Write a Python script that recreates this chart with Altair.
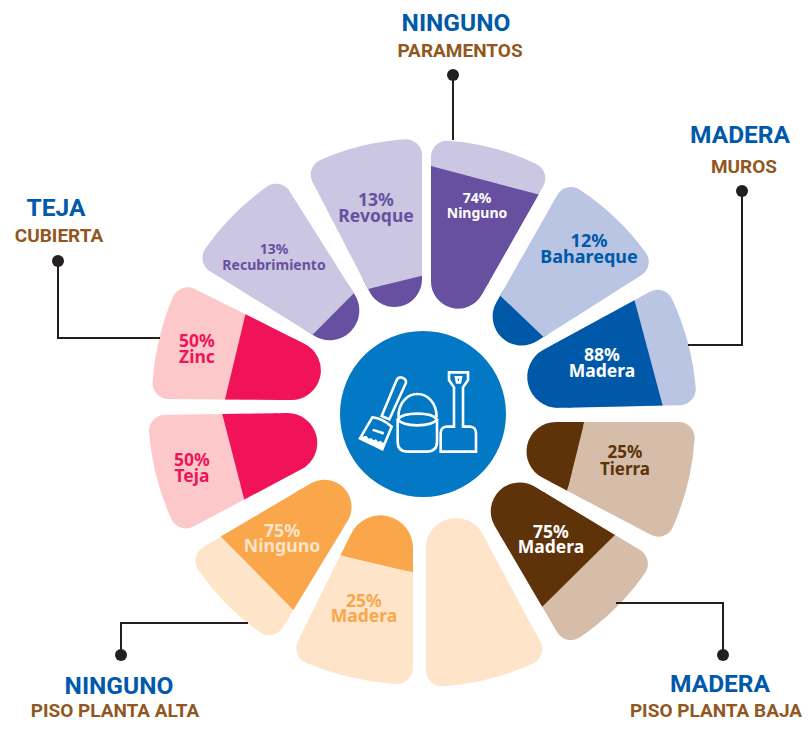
import math
import altair as alt
import pandas as pd

# ---------- petal data (clockwise from 12 o'clock) ----------
petal_dark = ["#67509F", "#0058A9", "#0058A9", "#5E3309", "#5E3309", "#FEE4C9",
              "#FAA74B", "#FAA74B", "#F0135A", "#F0135A", "#67509F", "#67509F"]
petal_pale = ["#CBC6E1", "#B9C5E3", "#B9C5E3", "#D5BDA9", "#D5BDA9", "#FEE4C9",
              "#FEE4C9", "#FEE4C9", "#FDC8CA", "#FDC8CA", "#CBC6E1", "#CBC6E1"]
dark_end = [248, 142, 240, 163, 228, 134, 162, 237, 200, 201, 137, 137]

# side edges of every petal: near point, far point
edge_start = [((431, 290), (431, 170)), ((501.7, 293), (560, 190)), ((543, 350), (650, 291.7)),
              ((553, 422), (683, 422)), ((537, 488), (640, 550)), ((482, 533), (543, 647)),
              ((413, 530), (413, 660)), ((350, 517), (283, 627)), ((300, 470), (187, 530)),
              ((290, 400), (153, 399)), ((313, 335), (203, 267)), ((367, 287), (310, 177))]
edge_end = [((480, 298), (540, 192)), ((546.7, 335), (645, 273)), ((553, 408), (687, 405)),
            ((543, 478), (653, 536)), ((493, 523), (560, 637)), ((426, 530), (426, 660)),
            ((353, 530), (297, 643)), ((303, 488), (193, 553)), ((290, 413), (155, 415)),
            ((303, 343), (183, 283)), ((353, 292), (287, 187)), ((422, 280), (422, 150))]

# ---------- label data ----------
pct_text = ["74%", "12%", "88%", "25%", "75%", "25%", "75%", "50%", "50%", "13%", "13%"]
name_text = ["Ninguno", "Bahareque", "Madera", "Tierra", "Madera", "Madera", "Ninguno",
             "Teja", "Zinc", "Recubrimiento", "Revoque"]
label_x = [477, 589, 602, 625, 551, 364, 282, 192, 197, 274, 376]
pct_y = [199, 242, 356, 453, 533, 602, 532, 461, 342, 250, 201]
name_y = [214, 258, 372, 470, 548, 617, 547, 477, 358, 266, 217]
label_size = [14, 18, 17.5, 17, 17.5, 17.5, 17.7, 17.5, 17.5, 14, 17.5]
label_color = ["#FFFFFF", "#0058A9", "#FFFFFF", "#5E3309", "#FFFFFF", "#FAA74B", "#FEE4C9",
               "#F0135A", "#F0135A", "#67509F", "#67509F"]

head_text = ["NINGUNO", "MADERA", "MADERA", "NINGUNO", "TEJA"]
head_x = [456, 740, 720, 119, 56]
head_y = [24, 136, 685, 687, 209]
sub_text = ["PARAMENTOS", "MUROS", "PISO PLANTA BAJA", "PISO PLANTA ALTA", "CUBIERTA"]
sub_x = [460, 744, 716, 115, 59]
sub_y = [51, 167, 711, 711, 236]

dot_x = [453, 742, 723, 121, 58]
dot_y = [75, 191, 655, 655, 261]
leader_x = [[453, 453], [742, 742, 688], [723, 723, 616], [121, 121, 248], [58, 58, 160]]
leader_y = [[75, 140], [191, 345, 345], [655, 603, 603], [655, 623, 623], [261, 338, 338]]

# ---------- geometry ----------
CX, CY = 423, 413
R0, R1 = 109, 274
MARGIN = 8
W, H = 794, 713

theta_scale = alt.Scale(domain=[0, 360])
px = alt.Scale(domain=[MARGIN, MARGIN + W], range=[0, W])
py = alt.Scale(domain=[MARGIN, MARGIN + H], range=[0, H])


def direction(edge):
    (x0, y0), (x1, y1) = edge
    return math.degrees(math.atan2(x1 - x0, -(y1 - y0))) % 360


def apex(e0, e1):
    (x1, y1), (x2, y2) = e0
    (x3, y3), (x4, y4) = e1
    d = (x1 - x2) * (y3 - y4) - (y1 - y2) * (x3 - x4)
    a = x1 * y2 - y1 * x2
    b = x3 * y4 - y3 * x4
    return ((a * (x3 - x4) - (x1 - x2) * b) / d, (a * (y3 - y4) - (y1 - y2) * b) / d)


def reach(ax, ay, deg, radius):
    """distance from a petal's apex, along its axis, to a circle round the wheel's centre"""
    ux, uy = math.sin(math.radians(deg)), -math.cos(math.radians(deg))
    fx, fy = ax - CX, ay - CY
    bb = fx * ux + fy * uy
    cc = fx * fx + fy * fy - radius * radius
    return -bb + math.sqrt(bb * bb - cc)


def arc(ax, ay, a0, a1, r_in, r_out, color, corner):
    df = pd.DataFrame([{"a0": a0, "a1": a1, "r0": r_in, "r1": r_out}])
    return alt.Chart(df).mark_arc(color=color, cornerRadius=corner).encode(
        theta=alt.Theta("a0:Q", scale=theta_scale),
        theta2="a1:Q",
        radius=alt.Radius("r1:Q", scale=None),
        radius2="r0:Q",
        x=alt.value(ax - MARGIN),
        y=alt.value(ay - MARGIN),
    )


def band(ax, ay, a0, a1, r_in, r_out, color):
    """straight-ended band of a petal, from r_in to r_out along its two sides"""
    pts = []
    for a, r in ((a0, r_in), (a1, r_in), (a1, r_out), (a0, r_out)):
        pts.append((r * math.sin(math.radians(a)), -r * math.cos(math.radians(a))))
    path = "M" + " L".join(f"{x:.2f},{y:.2f}" for x, y in pts) + " Z"
    return alt.Chart(pd.DataFrame({"k": [0]})).mark_point(
        shape=path, size=4, filled=True, fill=color, opacity=1, strokeWidth=0
    ).encode(x=alt.value(ax - MARGIN), y=alt.value(ay - MARGIN))


layers = []
for i in range(12):
    a0, a1 = direction(edge_start[i]), direction(edge_end[i])
    if a1 < a0:
        a1 += 360
    ax, ay = apex(edge_start[i], edge_end[i])
    mid = (a0 + a1) / 2
    r0, r1, rd = (reach(ax, ay, mid, r) for r in (R0, R1, dark_end[i]))
    layers.append(arc(ax, ay, a0, a1, r0, r0 + 72, petal_dark[i], 34))
    layers.append(arc(ax, ay, a0, a1, r0 + 55, r1, petal_pale[i], 16))
    if rd < r0 + 72:
        layers.append(band(ax, ay, a0, a1, rd, r0 + 74, petal_pale[i]))
    if rd > r0 + 36:
        layers.append(band(ax, ay, a0, a1, r0 + 36, rd, petal_dark[i]))

# ---------- centre disc and icon ----------
layers.append(
    alt.Chart(pd.DataFrame({"x": [CX], "y": [414]})).mark_circle(
        color="#0378C4", size=166 ** 2, opacity=1
    ).encode(x=alt.X("x:Q", scale=px, axis=None), y=alt.Y("y:Q", scale=py, axis=None))
)

icon_strokes = [
    "M170,150 L125,258 L148,268 L198,158 A15,15 0 0 0 170,150 Z",
    "M97,262 L60,325 L127,358 L155,290 Q128,266 97,262 Z",
    "M175,262 C175,215 205,192 232,192 C260,192 290,215 290,262",
    "M173,268 C190,245 275,245 291,268 C275,292 190,292 173,268 Z",
    "M173,268 L173,335 Q173,365 205,365 L258,365 Q291,365 291,335 L291,268",
    "M342,290 L342,172 L327,150 L327,127 L384,127 L384,150 L369,172 L369,290 L392,290 "
    "Q408,292 408,310 L408,365 L302,365 L302,310 Q302,292 318,290 Z",
    "M348,142 L363,142 L360,157 L351,157 Z",
]
icon_fills = [
    "M60,325 L127,358 L136,336 L128,338 L122,332 L114,335 L108,328 L100,331 L94,324 L86,326 L80,318 L72,318 Z",
    "M100,296 L132,306 L130,314 L96,302 Z",
]
icon_df = pd.DataFrame({"x": [340], "y": [330]})
for d in icon_strokes:
    layers.append(
        alt.Chart(icon_df).mark_point(
            shape=d, size=4 / 9, filled=False, stroke="#FFFFFF", strokeWidth=2.6, opacity=1
        ).encode(x=alt.X("x:Q", scale=px, axis=None), y=alt.Y("y:Q", scale=py, axis=None))
    )
for d in icon_fills:
    layers.append(
        alt.Chart(icon_df).mark_point(
            shape=d, size=4 / 9, filled=True, fill="#FFFFFF", opacity=1
        ).encode(x=alt.X("x:Q", scale=px, axis=None), y=alt.Y("y:Q", scale=py, axis=None))
    )

# ---------- leader lines and dots ----------
for lx, ly in zip(leader_x, leader_y):
    df = pd.DataFrame({"x": lx, "y": ly, "o": range(len(lx))})
    layers.append(
        alt.Chart(df).mark_line(color="#231F20", strokeWidth=2, strokeJoin="miter").encode(
            x=alt.X("x:Q", scale=px, axis=None),
            y=alt.Y("y:Q", scale=py, axis=None),
            order="o:Q",
        )
    )
layers.append(
    alt.Chart(pd.DataFrame({"x": dot_x, "y": dot_y})).mark_circle(
        color="#231F20", size=144, opacity=1
    ).encode(x=alt.X("x:Q", scale=px, axis=None), y=alt.Y("y:Q", scale=py, axis=None))
)


# ---------- texts ----------
def text_layer(texts, xs, ys, sizes, colors, font):
    df = pd.DataFrame({"t": texts, "x": xs, "y": ys, "s": sizes, "c": colors})
    return alt.Chart(df).mark_text(
        font=font, fontWeight="bold", align="center", baseline="middle"
    ).encode(
        x=alt.X("x:Q", scale=px, axis=None),
        y=alt.Y("y:Q", scale=py, axis=None),
        text="t:N",
        size=alt.Size("s:Q", scale=None, legend=None),
        color=alt.Color("c:N", scale=None, legend=None),
    )


layers.append(text_layer(pct_text, label_x, pct_y, label_size, label_color, "Noto Sans"))
layers.append(text_layer(name_text, label_x, name_y, label_size, label_color, "Noto Sans"))
layers.append(text_layer(head_text, head_x, head_y, [24.5] * 5, ["#0059AB"] * 5, "Roboto"))
layers.append(text_layer(sub_text, sub_x, sub_y, [19] * 5, ["#91571F"] * 5, "Roboto"))

chart = alt.layer(*layers).properties(
    width=W, height=H, padding=0, autosize=alt.AutoSizeParams(type="none"),
    background="#FFFFFF",
).configure_view(stroke=None)

chart.save("out.html", embed_options={"renderer": "svg", "actions": False})
